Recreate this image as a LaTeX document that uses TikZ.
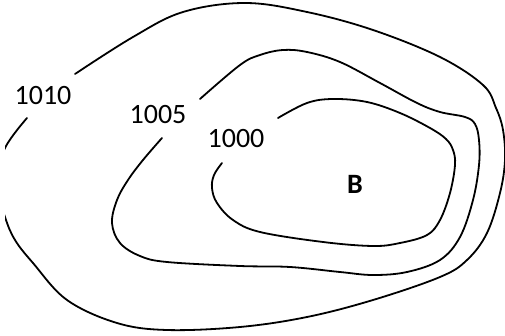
\documentclass[tikz,border=0pt]{standalone}
\usepackage{fontspec}
\setmainfont{Carlito}
\begin{document}
\begin{tikzpicture}[x=1pt,y=-1pt,
  isobar/.style={line width=1.8pt, line cap=round},
  lbl/.style={font=\fontsize{28}{32}\selectfont, inner sep=0pt}]
\useasboundingbox (0,0) rectangle (505,336);
\begin{scope}
\clip (5,0) rectangle (505,336);
% outer 1010
\draw[isobar] plot[smooth, tension=0.6] coordinates {
 (27,118) (5,148) (-4,183) (5,217) (15,240) (33,263) (67,300) (117,323) (167,330)
 (240,327) (307,317) (373,300) (440,277) (467,260) (487,233) (500,193) (505,160)
 (503,130) (496,108) (483,85) (440,57) (373,30) (307,12) (245,3) (183,12) (133,37) (75,74)};
\end{scope}
% middle 1005
\draw[isobar] plot[smooth, tension=0.6] coordinates {
 (162,138) (143,160) (128,180) (117,200) (112,223) (120,243) (140,256) (167,262)
 (240,266) (290,267) (340,272) (373,275) (407,272) (440,260) (460,237) (473,200)
 (479,165) (479,140) (475,124) (465,117) (440,112) (417,103) (380,83) (340,62)
 (307,52) (283,50) (260,55) (240,65) (200,99)};
% inner 1000
\draw[isobar] plot[smooth, tension=0.6] coordinates {
 (222,163) (214,175) (212,188) (217,203) (233,220) (260,232) (323,242) (373,246)
 (400,243) (427,235) (440,220) (450,193) (455,165) (453,150) (446,139) (430,128)
 (400,113) (367,102) (333,99) (307,103) (278,118)};
\node[lbl] (l1010) at (43,96) {1010};
\node[lbl] (l1005) at (158,115) {1005};
\node[lbl] (l1000) at (236,139) {1000};
\node[lbl, font=\fontsize{28}{32}\selectfont\bfseries] (b) at (355,184) {B};
\end{tikzpicture}
\end{document}
